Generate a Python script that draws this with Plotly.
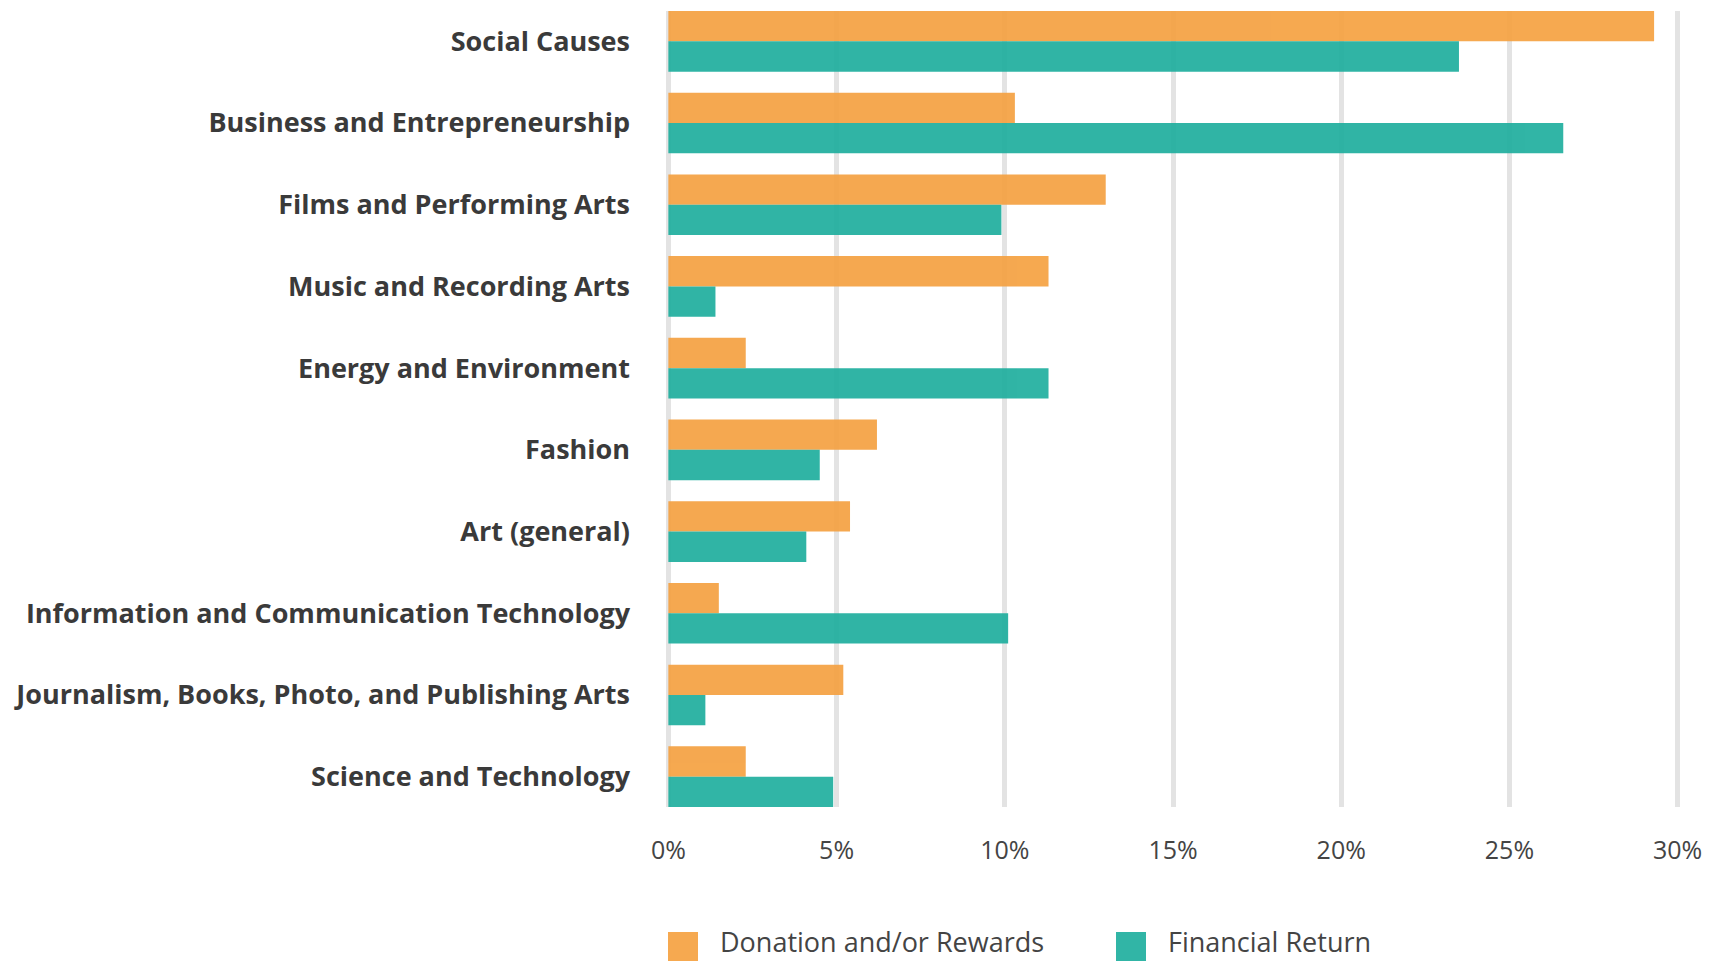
import plotly.graph_objects as go

categories = [
    "Social Causes",
    "Business and Entrepreneurship",
    "Films and Performing Arts",
    "Music and Recording Arts",
    "Energy and Environment",
    "Fashion",
    "Art (general)",
    "Information and Communication Technology",
    "Journalism, Books, Photo, and Publishing Arts",
    "Science and Technology",
]
donation = [29.3, 10.3, 13.0, 11.3, 2.3, 6.2, 5.4, 1.5, 5.2, 2.3]
financial = [23.5, 26.6, 9.9, 1.4, 11.3, 4.5, 4.1, 10.1, 1.1, 4.9]
tick_vals = [0, 5, 10, 15, 20, 25, 30]
tick_text = ["0%", "5%", "10%", "15%", "20%", "25%", "30%"]
series_names = ["Donation and/or Rewards", "Financial Return"]

ORANGE = "#F5A243"
TEAL = "#21AF9F"

OFF = 8  # page body margin
W, H = 1711, 953
L, R, T, B = 665 - OFF, 38, 11 - OFF, 154
PW, PH = W - L - R, H - T - B

fig = go.Figure()
fig.add_trace(go.Bar(y=categories, x=donation, orientation="h", name=series_names[0],
                     marker=dict(color=ORANGE, line=dict(width=0)), opacity=0.93))
fig.add_trace(go.Bar(y=categories, x=financial, orientation="h", name=series_names[1],
                     marker=dict(color=TEAL, line=dict(width=0)), opacity=0.93))

fig.update_layout(
    width=W, height=H,
    margin=dict(l=L, r=R, t=T, b=B),
    barmode="group", bargap=0.258, bargroupgap=0,
    plot_bgcolor="white", paper_bgcolor="white",
    showlegend=False,
    font=dict(family="Open Sans", color="#3a3a3a"),
)
fig.update_xaxes(range=[-0.1, 30.1], tickvals=tick_vals, ticktext=tick_text,
                 showgrid=True, gridcolor="#e3e3e3", gridwidth=5, zeroline=False,
                 showline=False, ticks="", tickfont=dict(size=25, color="#444"),
                 ticklabelstandoff=26)
fig.update_yaxes(categoryorder="array", categoryarray=categories,
                 range=[9.371, -0.371], showgrid=False, zeroline=False, showline=False,
                 ticks="", tickfont=dict(size=27, family="Open Sans", color="#3a3a3a",
                                          weight="bold"),
                 ticklabelstandoff=34)

def px2paper_x(px):
    return (px - OFF - L) / PW

def px2paper_y(py):
    return (H - B - (py - OFF)) / PH

legend_items = [(668, 718, ORANGE, series_names[0]), (1116, 1166, TEAL, series_names[1])]
for sx, tx, col, name in legend_items:
    fig.add_shape(type="rect", xref="paper", yref="paper",
                  x0=px2paper_x(sx), x1=px2paper_x(sx + 30),
                  y0=px2paper_y(932), y1=px2paper_y(962),
                  fillcolor=col, line=dict(width=0), opacity=0.93)
    fig.add_annotation(xref="paper", yref="paper", x=px2paper_x(tx), y=px2paper_y(941),
                       xanchor="left", yanchor="middle", showarrow=False, text=name,
                       font=dict(size=27, family="Open Sans", color="#444"))

fig.write_html("out.html")
